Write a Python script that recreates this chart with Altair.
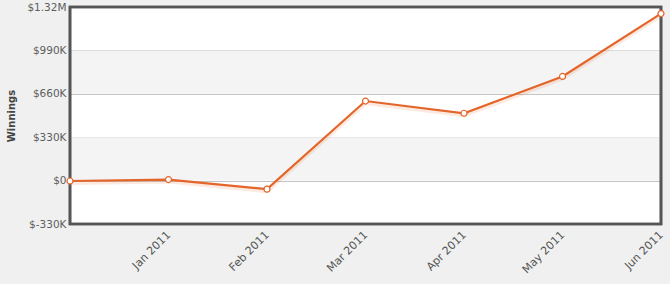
import altair as alt
import pandas as pd

months = ["Dec 2010", "Jan 2011", "Feb 2011", "Mar 2011", "Apr 2011", "May 2011", "Jun 2011"]
winnings = [-3000, 8000, -65000, 605000, 512000, 792000, 1270000]

band_lo = [660000, 0]
band_hi = [990000, 330000]

y_ticks = [-330000, 0, 330000, 660000, 990000, 1320000]

df = pd.DataFrame({"month": months, "value": winnings})
bands = pd.DataFrame({"lo": band_lo, "hi": band_hi})

W, H = 591, 217

yscale = alt.Scale(domain=[-330000, 1320000], nice=False, zero=False)
xscale = alt.Scale(type="point", padding=0, domain=months)

label_expr = ("datum.value == 0 ? '$0' : (abs(datum.value) >= 1000000 ? "
              "'$' + (datum.value/1000000) + 'M' : '$' + (datum.value/1000) + 'K')")

band_layer = alt.Chart(bands).mark_rect(color="#f4f4f4").encode(
    y=alt.Y("lo:Q", scale=yscale),
    y2="hi:Q",
)

x_enc = alt.X(
    "month:N",
    scale=xscale,
    sort=months,
    axis=alt.Axis(
        title=None,
        labelAngle=-45,
        labelAlign="right",
        labelBaseline="middle",
        labelExpr="datum.label == 'Dec 2010' ? '' : datum.label",
        ticks=False,
        domain=False,
        grid=False,
        labelPadding=9,
        labelFont="DejaVu Sans",
        labelFontSize=11,
        labelColor="#555555",
    ),
)

y_enc = alt.Y(
    "value:Q",
    scale=yscale,
    axis=alt.Axis(
        title="Winnings",
        titleFont="DejaVu Sans",
        titleFontSize=10,
        titleFontWeight="bold",
        titleColor="#444444",
        titlePadding=10,
        values=y_ticks,
        labelExpr=label_expr,
        labelFont="DejaVu Sans",
        labelFontSize=10.5,
        labelColor="#5e5e5e",
        labelPadding=4,
        ticks=False,
        domain=False,
        grid=True,
        gridColor="#c4c4c4",
        gridWidth=1,
    ),
)

frame = alt.Chart(bands).mark_rect(
    fillOpacity=0, stroke="#555555", strokeWidth=2.6
).encode(
    x=alt.value(0), x2=alt.value(W), y=alt.value(0), y2=alt.value(H)
)

shadow = alt.Chart(df).mark_line(
    color="#e8692a", strokeWidth=4, opacity=0.15, yOffset=2
).encode(x=x_enc, y=y_enc)

line = alt.Chart(df).mark_line(color="#e3652a", strokeWidth=2.2).encode(x=x_enc, y=y_enc)

pts = alt.Chart(df).mark_point(
    shape="circle", filled=True, fill="white", stroke="#e3652a", strokeWidth=1.2, size=36, opacity=1
).encode(x=x_enc, y=y_enc)

chart = alt.layer(band_layer, frame, shadow, line, pts).properties(
    width=W,
    height=H,
    background="#eff0ef",
    padding={"left": 70, "top": 7, "right": 9, "bottom": 60},
    autosize=alt.AutoSizeParams(type="none"),
).configure_view(
    fill="white",
    strokeWidth=0,
)

chart.save("out.html", embed_options={"renderer": "svg", "actions": False})
